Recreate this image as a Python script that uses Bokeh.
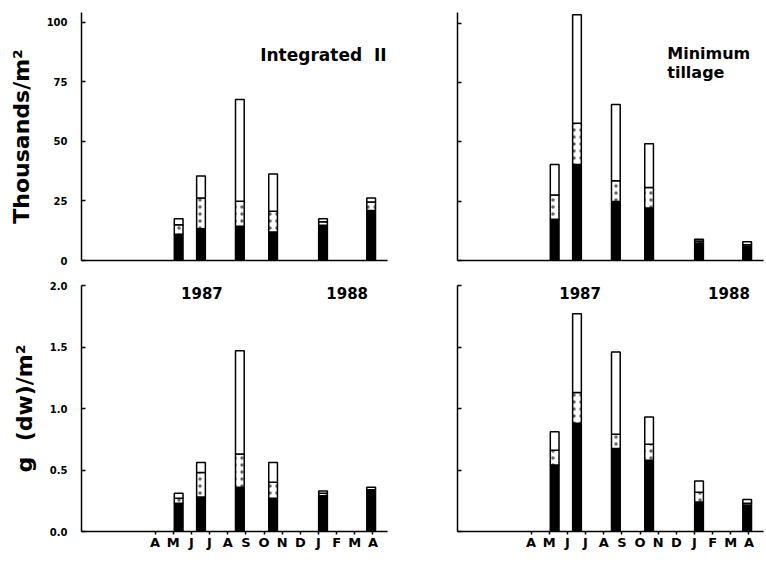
from bokeh.plotting import figure
from bokeh.layouts import gridplot
from bokeh.models import FixedTicker, PrintfTickFormatter, Label, Range1d
from bokeh.embed import file_html
from bokeh.resources import INLINE

# ---------------- data ----------------
months = ["A", "M", "J", "J", "A", "S", "O", "N", "D", "J", "F", "M", "A"]
month_pos = list(range(13))            # 0 = April 1987 ... 12 = April 1988
sample_x = [1.3, 2.53, 4.67, 6.5, 9.25, 11.9]   # sampling dates (months from Apr 1987)

# Integrated II, numbers (thousands/m2), cumulative boundaries: black / stippled / white
int_num_black = [11.0, 13.3, 14.4, 11.9, 14.8, 21.0]
int_num_mid = [15.0, 26.2, 24.8, 20.7, 16.2, 24.5]
int_num_total = [17.5, 35.4, 67.5, 36.3, 17.5, 26.2]

# Minimum tillage, numbers (thousands/m2)
min_num_black = [17.4, 40.4, 24.9, 22.1, 7.4, 5.9]
min_num_mid = [27.6, 57.8, 33.6, 30.8, 8.2, 6.6]
min_num_total = [40.4, 103.5, 65.7, 49.2, 9.0, 7.9]

# Integrated II, biomass g (dw)/m2
int_bio_black = [0.23, 0.28, 0.36, 0.27, 0.29, 0.33]
int_bio_mid = [0.27, 0.48, 0.63, 0.40, 0.31, 0.34]
int_bio_total = [0.31, 0.56, 1.47, 0.56, 0.33, 0.36]

# Minimum tillage, biomass g (dw)/m2
min_bio_black = [0.54, 0.88, 0.675, 0.58, 0.24, 0.215]
min_bio_mid = [0.66, 1.13, 0.79, 0.71, 0.32, 0.23]
min_bio_total = [0.81, 1.77, 1.46, 0.93, 0.41, 0.26]

num_ticks = [0, 25, 50, 75, 100]
bio_ticks = [0.0, 0.5, 1.0, 1.5, 2.0]

FONT = "DejaVu Sans"
NB = "\u00a0"


def make_panel(black, mid, total, y_end, yticks, w, h, left, right, top, bottom,
               show_ylabels, ylabel, month_axis, yfmt=None):
    p = figure(width=w, height=h, x_range=Range1d(-4.05, 12.8), y_range=Range1d(0, y_end),
               output_backend="svg", toolbar_location=None,
               min_border_left=left, min_border_right=right,
               min_border_top=top, min_border_bottom=bottom)
    p.outline_line_color = None
    p.grid.visible = False
    p.background_fill_color = "white"
    p.border_fill_color = "white"

    p.vbar(x=sample_x, width=0.48, bottom=0, top=black,
           fill_color="black", line_color="black", line_width=1.5)
    p.vbar(x=sample_x, width=0.48, bottom=black, top=mid,
           fill_color="white", line_color="black", line_width=1.5,
           hatch_pattern="dot", hatch_color="black", hatch_scale=7,
           hatch_weight=1, hatch_alpha=0.6)
    p.vbar(x=sample_x, width=0.48, bottom=mid, top=total,
           fill_color="white", line_color="black", line_width=1.5)

    yax = p.yaxis[0]
    yax.axis_line_width = 1.5
    yax.major_tick_line_width = 1.5
    yax.minor_tick_line_width = 1.5
    if yfmt is not None:
        yax.formatter = yfmt
    if show_ylabels:
        yax.ticker = FixedTicker(ticks=yticks)
        yax.major_tick_in = 4
        yax.major_tick_out = 0
        yax.minor_tick_in = 0
        yax.minor_tick_out = 0
        yax.major_label_text_font = FONT
        yax.major_label_text_font_style = "bold"
        yax.major_label_text_font_size = "10px"
        yax.major_label_text_color = "black"
        yax.major_label_standoff = 14
        yax.axis_label = ylabel
        yax.axis_label_text_font = FONT
        yax.axis_label_text_font_style = "bold"
        yax.axis_label_text_font_size = "22px"
        yax.axis_label_text_color = "black"
        yax.axis_label_standoff = 10
    else:
        # tick marks only (no labels): use minor ticks at the value positions
        yax.ticker = FixedTicker(ticks=[], minor_ticks=yticks)
        yax.major_tick_in = 0
        yax.major_tick_out = 0
        yax.minor_tick_in = 4
        yax.minor_tick_out = 0
        yax.major_label_standoff = 0

    xax = p.xaxis[0]
    xax.axis_line_width = 1.5
    xax.minor_tick_in = 0
    xax.minor_tick_out = 0
    if month_axis:
        xax.ticker = FixedTicker(ticks=month_pos)
        xax.major_label_overrides = {i: m for i, m in zip(month_pos, months)}
        xax.major_tick_in = 0
        xax.major_tick_out = 3
        xax.major_tick_line_width = 1.5
        xax.major_label_standoff = 0
        xax.major_label_text_font = FONT
        xax.major_label_text_font_style = "bold"
        xax.major_label_text_font_size = "13px"
        xax.major_label_text_color = "black"
    else:
        xax.ticker = FixedTicker(ticks=[])
        xax.major_tick_in = 0
        xax.major_tick_out = 0
        xax.major_label_standoff = 0
    return p


def add_text(p, x, y, text, size, align="center"):
    p.add_layout(Label(x=x, y=y, text=text, text_align=align, text_baseline="middle",
                       text_font=FONT, text_font_style="bold",
                       text_font_size=size, text_color="black"))


LW, RW = 395, 370
TH, BH = 272, 283

p_tl = make_panel(int_num_black, int_num_mid, int_num_total, 104, num_ticks,
                  LW, TH, 81, 8, 12, 12, True, "Thousands/m²", False)
add_text(p_tl, 12.75, 86, "Integrated" + NB + NB + "II", "17px", "right")

p_tr = make_panel(min_num_black, min_num_mid, min_num_total, 104.5, num_ticks,
                  RW, TH, 62, 2, 12, 12, False, "", False)
add_text(p_tr, 7.5, 87.3, "Minimum", "16px", "left")
add_text(p_tr, 7.5, 79.3, "tillage", "16px", "left")

p_bl = make_panel(int_bio_black, int_bio_mid, int_bio_total, 2.0, bio_ticks,
                  LW, BH, 81, 8, 13, 24, True, "g" + NB + NB + "(dw)/m²", True,
                  PrintfTickFormatter(format="%.1f"))
add_text(p_bl, 2.58, 1.94, "1987", "15px")
add_text(p_bl, 10.58, 1.94, "1988", "15px")

p_br = make_panel(min_bio_black, min_bio_mid, min_bio_total, 2.0, bio_ticks,
                  RW, BH, 62, 2, 13, 24, False, "", True)
add_text(p_br, 2.7, 1.94, "1987", "15px")
add_text(p_br, 10.9, 1.94, "1988", "15px")

grid = gridplot([[p_tl, p_tr], [p_bl, p_br]], toolbar_location=None)

open("out.html", "w").write(file_html(grid, INLINE))
